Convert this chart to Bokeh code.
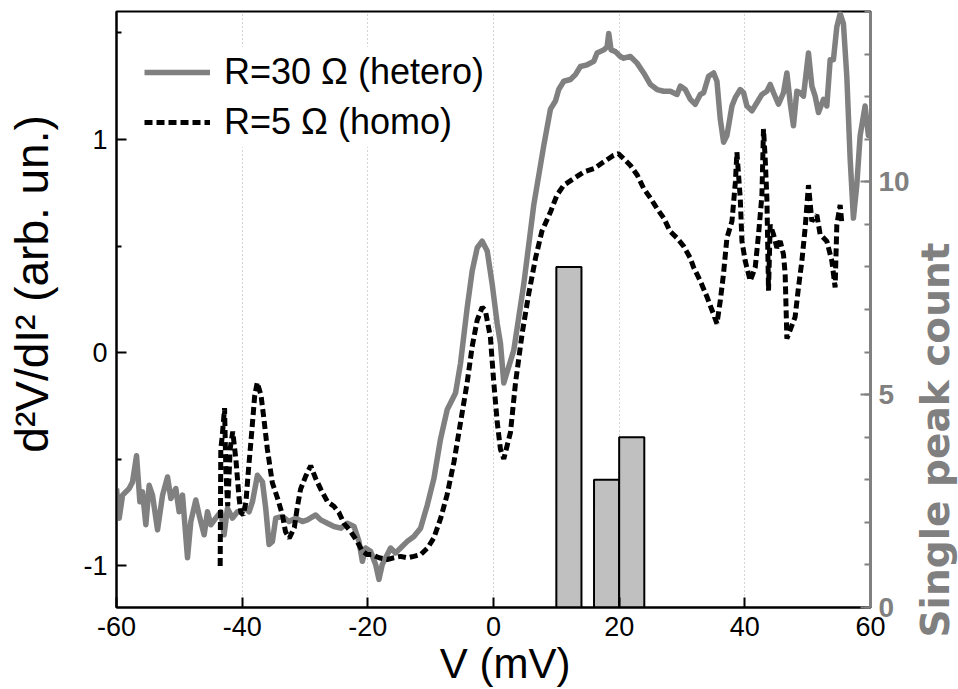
import math
from bokeh.plotting import figure
from bokeh.layouts import row
from bokeh.models import Range1d, LinearAxis, FixedTicker, Legend, LegendItem
from bokeh.embed import file_html
from bokeh.resources import INLINE
from bokeh.core.properties import value

FONT = "Liberation Sans"
GRAY = "#808080"
NB = "\u00a0"

# ---- data ----
v_hetero = [-60.0, -59.57, -59.03, -57.98, -57.45, -56.81, -56.28, -55.86, -55.33, -54.80,
            -54.27, -53.47, -52.67, -51.88, -51.35, -50.56, -50.03, -49.49, -48.70, -48.17,
            -47.38, -46.85, -46.05, -45.52, -44.99, -44.2, -43.4, -42.88, -42.34, -41.54,
            -40.75, -40.22, -39.43, -38.90, -38.36, -37.57, -36.77, -36.25, -35.72, -35.18,
            -34.66, -33.59, -32.54, -31.48, -30.41, -29.62, -28.30, -27.50, -26.44, -25.39,
            -24.32, -23.26, -22.20, -21.41, -20.87, -20.35, -19.56, -18.76, -18.23, -17.70,
            -16.90, -16.38, -15.58, -14.79, -13.72, -12.67, -11.61, -10.54, -9.49, -8.43,
            -7.36, -6.04, -5.25, -4.18, -3.39, -2.59, -1.80, -1.00, -0.21, 0.59,
            1.11, 1.64, 3.23, 4.82, 6.41, 8.00, 9.06, 9.86, 10.38, 11.18,
            12.24, 13.04, 13.83, 14.90, 15.95, 16.49, 17.54, 18.08, 18.34, 18.71,
            19.40, 20.19, 20.72, 21.78, 22.85, 23.90, 24.96, 26.03, 27.08, 28.14,
            29.21, 29.73, 30.52, 31.32, 32.11, 32.91, 33.44, 34.23, 35.03, 35.56,
            36.09, 36.62, 37.15, 37.95, 38.47, 39.27, 39.80, 40.33, 41.13, 41.92,
            42.72, 43.51, 44.04, 44.57, 45.36, 46.15, 46.69, 47.22, 47.74, 48.28,
            48.81, 49.33, 50.13, 50.67, 51.19, 51.72, 52.51, 53.05, 53.58, 54.10,
            54.64, 55.17, 55.69, 56.23, 56.76, 57.28, 57.82, 58.35, 59.14, 59.67, 60.0]
d2_hetero = [-0.637, -0.776, -0.668, -0.637, -0.606, -0.483, -0.699, -0.653, -0.807, -0.622,
             -0.668, -0.831, -0.668, -0.583, -0.684, -0.637, -0.746, -0.668, -0.962, -0.792,
             -0.691, -0.761, -0.854, -0.746, -0.807, -0.776, -0.746, -0.854, -0.730, -0.776,
             -0.746, -0.746, -0.730, -0.746, -0.699, -0.575, -0.606, -0.730, -0.900, -0.885,
             -0.776, -0.768, -0.792, -0.776, -0.792, -0.784, -0.761, -0.784, -0.800, -0.815,
             -0.823, -0.800, -0.815, -0.885, -0.978, -0.916, -0.931, -0.993, -1.063, -0.993,
             -0.947, -0.916, -0.939, -0.916, -0.885, -0.862, -0.823, -0.715, -0.591, -0.405,
             -0.266, -0.189, -0.050, 0.213, 0.384, 0.492, 0.523, 0.477, 0.322, 0.136,
             0.043, -0.142, 0.012, 0.322, 0.693, 0.971, 1.142, 1.180, 1.234, 1.273,
             1.281, 1.304, 1.342, 1.350, 1.366, 1.405, 1.420, 1.435, 1.497, 1.420,
             1.412, 1.389, 1.381, 1.389, 1.358, 1.312, 1.258, 1.234, 1.226, 1.226,
             1.211, 1.250, 1.234, 1.188, 1.165, 1.211, 1.219, 1.296, 1.312, 1.273,
             1.095, 0.987, 1.018, 1.157, 1.196, 1.234, 1.219, 1.157, 1.134, 1.172,
             1.211, 1.226, 1.258, 1.219, 1.165, 1.219, 1.312, 1.172, 1.064, 1.226,
             1.219, 1.203, 1.405, 1.250, 1.203, 1.126, 1.188, 1.157, 1.374, 1.374,
             1.528, 1.590, 1.543, 1.296, 0.910, 0.631, 0.786, 1.018, 1.157, 1.018, 1.05]

v_homo = [-43.5, -43.4, -43.2, -42.8, -42.6, -42.3, -41.9, -41.5, -41.0, -40.5,
          -40.2, -39.8, -39.4, -39.0, -38.5, -38.0, -37.6, -37.0, -36.5, -36.0,
          -35.2, -34.4, -33.6, -33.1, -32.5, -31.7, -31.2, -30.7, -29.9, -29.1,
          -28.3, -27.5, -26.4, -25.4, -24.6, -23.8, -22.7, -21.7, -20.9, -20.1,
          -19.3, -18.2, -16.9, -15.9, -14.8, -13.7, -12.7, -11.6, -10.5, -9.5,
          -8.4, -7.4, -6.3, -5.25, -4.2, -3.4, -2.6, -1.8, -1.3, -0.5,
          0.05, 0.6, 1.1, 1.64, 2.7, 3.5, 4.56, 5.6, 6.7, 7.7,
          9.1, 10.1, 11.2, 12.8, 14.4, 16.0, 17.5, 19.1, 19.9, 20.7,
          21.8, 22.9, 23.9, 25.0, 26.0, 27.1, 28.1, 29.2, 30.25, 31.3,
          31.85, 32.9, 34.0, 35.0, 35.56, 36.1, 36.6, 37.15, 37.95, 38.5,
          38.74, 39.27, 39.54, 40.06, 40.86, 41.65, 42.18, 42.72, 42.97, 43.24,
          43.51, 43.77, 44.04, 44.57, 45.1, 45.63, 46.15, 46.42, 46.69, 48.0,
          48.54, 49.08, 49.6, 50.13, 50.67, 51.46, 51.99, 53.05, 53.85, 54.37,
          54.64, 55.17, 55.44]
d2_homo = [-1.0, -0.45, -0.40, -0.26, -0.55, -0.72, -0.45, -0.37, -0.50, -0.68,
           -0.75, -0.76, -0.70, -0.55, -0.38, -0.20, -0.14, -0.20, -0.32, -0.45,
           -0.61, -0.68, -0.76, -0.84, -0.87, -0.82, -0.72, -0.64, -0.58, -0.53,
           -0.59, -0.64, -0.70, -0.72, -0.75, -0.80, -0.84, -0.885, -0.93, -0.947,
           -0.947, -0.962, -0.97, -0.962, -0.955, -0.962, -0.955, -0.947, -0.916, -0.869,
           -0.776, -0.668, -0.514, -0.328, -0.142, 0.028, 0.152, 0.213, 0.198, 0.074,
           -0.142, -0.328, -0.452, -0.498, -0.374, -0.142, 0.090, 0.275, 0.445, 0.569,
           0.662, 0.739, 0.786, 0.817, 0.848, 0.863, 0.894, 0.925, 0.933, 0.910,
           0.878, 0.832, 0.770, 0.724, 0.677, 0.631, 0.569, 0.538, 0.50, 0.445,
           0.40, 0.337, 0.260, 0.182, 0.136, 0.245, 0.368, 0.538, 0.616, 0.801,
           0.940, 0.724, 0.523, 0.430, 0.337, 0.399, 0.554, 0.739, 1.049, 0.910,
           0.724, 0.291, 0.600, 0.554, 0.492, 0.523, 0.461, 0.368, 0.066, 0.167,
           0.306, 0.430, 0.585, 0.786, 0.616, 0.646, 0.554, 0.523, 0.430, 0.306,
           0.600, 0.693, 0.608]

bar_centers = [12, 18, 22]
bar_counts = [8, 3, 4]
bar_width = 4

x_ticks = [-60, -40, -20, 0, 20, 40, 60]
left_ticks = [-1, 0, 1]
left_minor = [-1.5, -0.5, 0.5, 1.5]
right_ticks = [0, 5, 10]
right_minor = list(range(0, 15))

labels = ["R=30 \u03a9 (hetero)", "R=5 \u03a9 (homo)"]
x_title = "V (mV)"
y_title = "d\u00b2V/dI\u00b2 (arb. un.)"
y2_title = "Single peak count"

x_lo, x_hi = -60, 60
y_lo, y_hi = -1.195, 1.6
c_lo, c_hi = 0, 14

# ---- main figure ----
MAIN_W, SIDE_W, H = 912, 46, 689
TOP, BOTTOM = 11, 76
p = figure(width=MAIN_W, height=H, output_backend="svg", toolbar_location=None,
           x_range=Range1d(x_lo, x_hi), y_range=Range1d(y_lo, y_hi),
           min_border_left=116, min_border_right=42, min_border_top=TOP, min_border_bottom=BOTTOM,
           background_fill_color="white", border_fill_color="white")
p.extra_y_ranges = {"count": Range1d(c_lo, c_hi)}
p.outline_line_color = "black"
p.outline_line_width = 2

p.ygrid.visible = False
p.xgrid.grid_line_color = "#a8a8a8"
p.xgrid.grid_line_dash = "1 3"
p.xgrid.grid_line_width = 1

xa = p.xaxis[0]
xa.ticker = FixedTicker(ticks=x_ticks, minor_ticks=[])
xa.major_label_overrides = {t: str(t) for t in x_ticks}
xa.major_tick_in = 10
xa.major_tick_out = 0
xa.minor_tick_in = 0
xa.minor_tick_out = 0
xa.major_tick_line_width = 2
xa.axis_line_width = 2
xa.axis_line_color = "black"
xa.major_label_standoff = 9
xa.major_label_text_font = FONT
xa.major_label_text_font_size = "27px"
xa.major_label_text_color = "black"
xa.axis_label = NB * 2 + x_title
xa.axis_label_text_font = FONT
xa.axis_label_text_font_size = "42px"
xa.axis_label_text_font_style = "normal"
xa.axis_label_text_color = "black"
xa.axis_label_standoff = 1

ya = p.yaxis[0]
ya.ticker = FixedTicker(ticks=left_ticks, minor_ticks=left_minor)
ya.major_label_overrides = {t: str(t) for t in left_ticks}
ya.major_tick_in = 10
ya.major_tick_out = 0
ya.minor_tick_in = 5
ya.minor_tick_out = 0
ya.major_tick_line_width = 2
ya.minor_tick_line_width = 2
ya.axis_line_width = 2
ya.axis_line_color = "black"
ya.major_label_standoff = 9
ya.major_label_text_font = FONT
ya.major_label_text_font_size = "27px"
ya.major_label_text_color = "black"
ya.axis_label = NB * 4 + y_title
ya.axis_label_text_font = FONT
ya.axis_label_text_font_size = "46px"
ya.axis_label_text_font_style = "normal"
ya.axis_label_text_color = "black"
ya.axis_label_standoff = 22

ra = LinearAxis(y_range_name="count",
                ticker=FixedTicker(ticks=right_ticks, minor_ticks=right_minor))
ra.major_label_overrides = {t: str(t) for t in right_ticks}
ra.axis_line_color = GRAY
ra.axis_line_width = 3
ra.major_tick_line_color = GRAY
ra.minor_tick_line_color = GRAY
ra.major_tick_line_width = 2
ra.minor_tick_line_width = 2
ra.major_tick_in = 10
ra.major_tick_out = 0
ra.minor_tick_in = 6
ra.minor_tick_out = 0
ra.major_label_standoff = 8
ra.major_label_text_font = FONT
ra.major_label_text_font_size = "28px"
ra.major_label_text_font_style = "bold"
ra.major_label_text_color = GRAY
p.add_layout(ra, "right")

# ---- marks ----
p.vbar(x=bar_centers, width=bar_width, top=bar_counts, bottom=0, y_range_name="count",
       fill_color="#c0c0c0", line_color="black", line_width=2)

r1 = p.line(v_hetero, d2_hetero, line_color=GRAY, line_width=5.5, line_join="round")
r2 = p.line(v_homo, d2_homo, line_color="black", line_width=5, line_dash="8 4")

legend = Legend(items=[LegendItem(label=labels[0], renderers=[r1]),
                       LegendItem(label=labels[1], renderers=[r2])],
                location=(28, 460), orientation="vertical",
                label_text_font=FONT, label_text_font_size="36px", label_text_color="black",
                glyph_width=66, glyph_height=50, label_height=50, label_standoff=14,
                spacing=0, padding=10, margin=0,
                border_line_color=None, background_fill_color="white", background_fill_alpha=1.0)
p.add_layout(legend)

# ---- narrow side strip that carries the right-hand axis title (reads bottom to top) ----
s = figure(width=SIDE_W, height=H, output_backend="svg", toolbar_location=None,
           x_axis_type=None, y_axis_type=None, min_border=0,
           background_fill_color="white", border_fill_color="white")
s.outline_line_color = None
s.grid.visible = False
try:
    s.frame_align = False          # let the strip use its whole height
    s_y0, s_y1, title_y = 0, H, 52
except Exception:                  # frame stays aligned with the main plot
    s_y0, s_y1, title_y = BOTTOM, H - TOP, BOTTOM + 3
s.x_range = Range1d(0, SIDE_W)
s.y_range = Range1d(s_y0, s_y1)
s.text(x=[SIDE_W / 2], y=[title_y], text=[y2_title], angle=math.pi / 2,
       text_align="left", text_baseline="middle",
       text_font=value("DejaVu Sans"), text_font_size="39px", text_font_style="bold",
       text_color=GRAY)

layout = row(p, s, spacing=0)
open("out.html", "w").write(file_html(layout, INLINE))
